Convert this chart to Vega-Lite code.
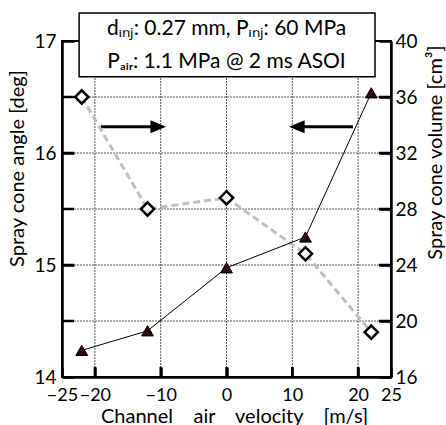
{
  "$schema": "https://vega.github.io/schema/vega-lite/v6.json",
  "width": 329,
  "height": 336,
  "autosize": {"type": "none"},
  "padding": {"left": 62, "top": 41, "right": 55, "bottom": 48},
  "background": "white",
  "config": {
    "font": "Lato",
    "view": {"stroke": "black", "strokeWidth": 2},
    "axis": {
      "domainColor": "black",
      "domainWidth": 2.5,
      "tickColor": "black",
      "tickWidth": 2.5,
      "labelFont": "Lato",
      "labelFontSize": 19,
      "labelColor": "black",
      "labelFlush": false,
      "labelOverlap": false,
      "titleFont": "Lato",
      "titleFontSize": 20,
      "titleFontWeight": "normal",
      "titleColor": "black",
      "grid": false,
      "zindex": 1
    }
  },
  "datasets": {
    "series": [
      {"v": -22, "angle": 16.5, "volume": 17.9},
      {"v": -12, "angle": 15.5, "volume": 19.3},
      {"v": 0, "angle": 15.6, "volume": 23.8},
      {"v": 12, "angle": 15.1, "volume": 26.0},
      {"v": 22, "angle": 14.4, "volume": 36.3}
    ],
    "gridx": [
      {"g": -20, "lo": 14, "hi": 17}, {"g": -10, "lo": 14, "hi": 17}, {"g": 0, "lo": 14, "hi": 17},
      {"g": 10, "lo": 14, "hi": 17}, {"g": 20, "lo": 14, "hi": 17}
    ],
    "gridy": [
      {"g": 14.5, "lo": -25, "hi": 25}, {"g": 15, "lo": -25, "hi": 25}, {"g": 15.5, "lo": -25, "hi": 25},
      {"g": 16, "lo": -25, "hi": 25}, {"g": 16.5, "lo": -25, "hi": 25}
    ],
    "hticks": [
      {"a": -25, "b": -23.18, "y": 14.5}, {"a": -25, "b": -23.18, "y": 15}, {"a": -25, "b": -23.18, "y": 15.5},
      {"a": -25, "b": -23.18, "y": 16}, {"a": -25, "b": -23.18, "y": 16.5},
      {"a": 23.18, "b": 25, "y": 14.5}, {"a": 23.18, "b": 25, "y": 15}, {"a": 23.18, "b": 25, "y": 15.5},
      {"a": 23.18, "b": 25, "y": 16}, {"a": 23.18, "b": 25, "y": 16.5}
    ],
    "vticks": [
      {"x": -20, "lo": 14, "hi": 14.09}, {"x": -10, "lo": 14, "hi": 14.09}, {"x": 0, "lo": 14, "hi": 14.09},
      {"x": 10, "lo": 14, "hi": 14.09}, {"x": 20, "lo": 14, "hi": 14.09}
    ],
    "box": [{"x1": -22.4, "x2": 22.57, "y1": 16.68, "y2": 17.25}],
    "notes": [
      {"x": 0, "y": 17.107, "text": "dᵢₙⱼ: 0.27 mm, Pᵢₙⱼ: 60 MPa"},
      {"x": 0, "y": 16.81, "text": "Pₐᵢᵣ: 1.1 MPa @ 2 ms ASOI"}
    ],
    "arrows": [
      {"tail": -19.07, "base": -11.0, "tip": -9.19, "y": 16.235, "dir": "right"},
      {"tail": 19.22, "base": 11.3, "tip": 9.5, "y": 16.235, "dir": "left"}
    ]
  },
  "layer": [
    {
      "layer": [
        {
          "data": {"name": "gridx"},
          "mark": {"type": "rule", "color": "#555555", "strokeWidth": 1, "strokeDash": [2, 1]},
          "encoding": {
            "x": {
              "field": "g", "type": "quantitative", "title": "Channel\u00a0\u00a0\u00a0 air\u00a0\u00a0\u00a0 velocity\u00a0\u00a0\u00a0 [m/s]",
              "scale": {"domain": [-25, 25], "nice": false, "zero": false},
              "axis": {
                "values": [-25, -20, -10, 0, 10, 20, 25],
                "format": "d",
                "tickSize": -10,
                "labelPadding": 19,
                "labelFontSize": 18,
                "titleX": 172,
                "titleY": 39,
                "titleBaseline": "middle"
              }
            },
            "y": {
              "field": "lo", "type": "quantitative", "title": "Spray cone angle [deg]",
              "scale": {"domain": [14, 17], "nice": false, "zero": false},
              "axis": {
                "values": [14, 15, 16, 17],
                "format": "d",
                "tickSize": -12,
                "labelPadding": 18,
                "titleAngle": 270,
                "titleX": -45,
                "titleY": 127,
                "titleAlign": "center",
                "titleBaseline": "middle"
              }
            },
            "y2": {"field": "hi"}
          }
        },
        {
          "data": {"name": "gridy"},
          "mark": {"type": "rule", "color": "#555555", "strokeWidth": 1, "strokeDash": [2, 1]},
          "encoding": {
            "x": {"field": "lo", "type": "quantitative", "title": "Channel\u00a0\u00a0\u00a0 air\u00a0\u00a0\u00a0 velocity\u00a0\u00a0\u00a0 [m/s]"},
            "x2": {"field": "hi"},
            "y": {"field": "g", "type": "quantitative", "title": "Spray cone angle [deg]"}
          }
        },
        {
          "data": {"name": "hticks"},
          "mark": {"type": "rule", "color": "black", "strokeWidth": 2.5},
          "encoding": {
            "x": {"field": "a", "type": "quantitative", "title": "Channel\u00a0\u00a0\u00a0 air\u00a0\u00a0\u00a0 velocity\u00a0\u00a0\u00a0 [m/s]"},
            "x2": {"field": "b"},
            "y": {"field": "y", "type": "quantitative", "title": "Spray cone angle [deg]"}
          }
        },
        {
          "data": {"name": "vticks"},
          "mark": {"type": "rule", "color": "black", "strokeWidth": 2.5},
          "encoding": {
            "x": {"field": "x", "type": "quantitative", "title": "Channel\u00a0\u00a0\u00a0 air\u00a0\u00a0\u00a0 velocity\u00a0\u00a0\u00a0 [m/s]"},
            "y": {"field": "lo", "type": "quantitative", "title": "Spray cone angle [deg]"},
            "y2": {"field": "hi"}
          }
        },
        {
          "data": {"name": "box"},
          "mark": {"type": "rect", "fill": "white", "stroke": "black", "strokeWidth": 1.5},
          "encoding": {
            "x": {"field": "x1", "type": "quantitative", "title": "Channel\u00a0\u00a0\u00a0 air\u00a0\u00a0\u00a0 velocity\u00a0\u00a0\u00a0 [m/s]"},
            "x2": {"field": "x2"},
            "y": {"field": "y1", "type": "quantitative", "title": "Spray cone angle [deg]"},
            "y2": {"field": "y2"}
          }
        },
        {
          "data": {"name": "notes"},
          "mark": {"type": "text", "fontSize": 21, "font": "Lato", "align": "center", "baseline": "middle", "color": "black"},
          "encoding": {
            "x": {"field": "x", "type": "quantitative", "title": "Channel\u00a0\u00a0\u00a0 air\u00a0\u00a0\u00a0 velocity\u00a0\u00a0\u00a0 [m/s]"},
            "y": {"field": "y", "type": "quantitative", "title": "Spray cone angle [deg]"},
            "text": {"field": "text"}
          }
        },
        {
          "data": {"name": "arrows"},
          "mark": {"type": "rule", "strokeWidth": 3, "color": "black"},
          "encoding": {
            "x": {"field": "tail", "type": "quantitative", "title": "Channel\u00a0\u00a0\u00a0 air\u00a0\u00a0\u00a0 velocity\u00a0\u00a0\u00a0 [m/s]"},
            "x2": {"field": "base"},
            "y": {"field": "y", "type": "quantitative", "title": "Spray cone angle [deg]"}
          }
        },
        {
          "data": {"name": "arrows"},
          "transform": [{"filter": "datum.dir === 'right'"}],
          "mark": {"type": "point", "shape": "M0,0L-2.4,-1L-2.4,1Z", "filled": true, "size": 169, "color": "black", "opacity": 1},
          "encoding": {
            "x": {"field": "tip", "type": "quantitative", "title": "Channel\u00a0\u00a0\u00a0 air\u00a0\u00a0\u00a0 velocity\u00a0\u00a0\u00a0 [m/s]"},
            "y": {"field": "y", "type": "quantitative", "title": "Spray cone angle [deg]"}
          }
        },
        {
          "data": {"name": "arrows"},
          "transform": [{"filter": "datum.dir === 'left'"}],
          "mark": {"type": "point", "shape": "M0,0L2.4,-1L2.4,1Z", "filled": true, "size": 169, "color": "black", "opacity": 1},
          "encoding": {
            "x": {"field": "tip", "type": "quantitative", "title": "Channel\u00a0\u00a0\u00a0 air\u00a0\u00a0\u00a0 velocity\u00a0\u00a0\u00a0 [m/s]"},
            "y": {"field": "y", "type": "quantitative", "title": "Spray cone angle [deg]"}
          }
        },
        {
          "data": {"name": "series"},
          "mark": {"type": "line", "color": "#bfbfbf", "strokeWidth": 3, "strokeDash": [7, 4]},
          "encoding": {
            "x": {"field": "v", "type": "quantitative", "title": "Channel\u00a0\u00a0\u00a0 air\u00a0\u00a0\u00a0 velocity\u00a0\u00a0\u00a0 [m/s]"},
            "y": {"field": "angle", "type": "quantitative", "title": "Spray cone angle [deg]"}
          }
        },
        {
          "data": {"name": "series"},
          "mark": {"type": "point", "shape": "diamond", "filled": true, "fill": "white", "stroke": "black", "strokeWidth": 2.5, "size": 175, "opacity": 1},
          "encoding": {
            "x": {"field": "v", "type": "quantitative", "title": "Channel\u00a0\u00a0\u00a0 air\u00a0\u00a0\u00a0 velocity\u00a0\u00a0\u00a0 [m/s]"},
            "y": {"field": "angle", "type": "quantitative", "title": "Spray cone angle [deg]"}
          }
        }
      ]
    },
    {
      "layer": [
        {
          "data": {"name": "series"},
          "mark": {"type": "line", "color": "black", "strokeWidth": 1},
          "encoding": {
            "x": {"field": "v", "type": "quantitative", "title": "Channel\u00a0\u00a0\u00a0 air\u00a0\u00a0\u00a0 velocity\u00a0\u00a0\u00a0 [m/s]"},
            "y": {
              "field": "volume", "type": "quantitative", "title": "Spray cone volume [cm³]",
              "scale": {"domain": [16, 40], "nice": false, "zero": false},
              "axis": {
                "orient": "right",
                "values": [16, 20, 24, 28, 32, 36, 40],
                "tickSize": -12,
                "labelPadding": 16,
                "titleAngle": 270,
                "titleX": 44,
                "titleY": 111,
                "titleAlign": "center",
                "titleBaseline": "middle"
              }
            }
          }
        },
        {
          "data": {"name": "series"},
          "mark": {"type": "point", "shape": "triangle-up", "filled": true, "fill": "#2d0808", "stroke": "black", "strokeWidth": 1, "size": 140, "opacity": 1},
          "encoding": {
            "x": {"field": "v", "type": "quantitative", "title": "Channel\u00a0\u00a0\u00a0 air\u00a0\u00a0\u00a0 velocity\u00a0\u00a0\u00a0 [m/s]"},
            "y": {"field": "volume", "type": "quantitative", "title": "Spray cone volume [cm³]"}
          }
        }
      ]
    }
  ],
  "resolve": {"scale": {"y": "independent"}}
}
